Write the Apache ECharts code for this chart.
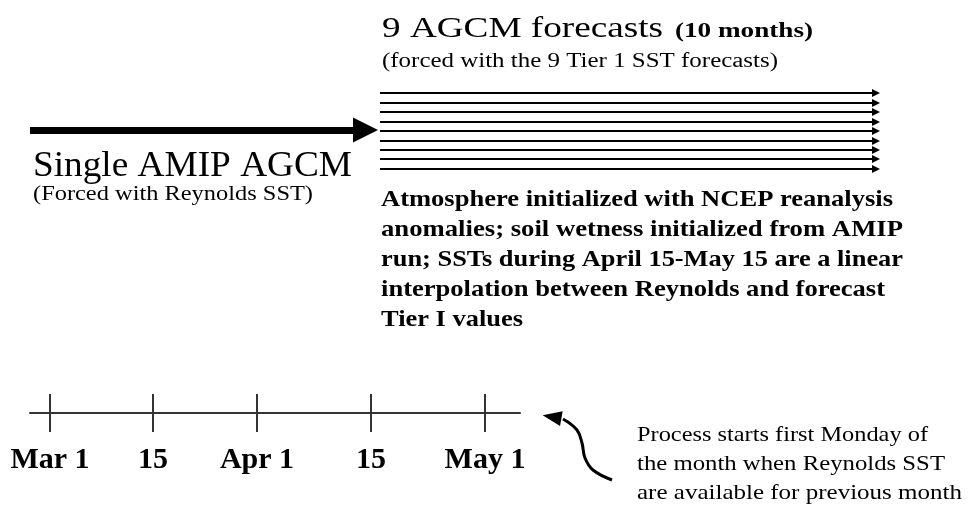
<!DOCTYPE html>
<html>
<head>
<meta charset="utf-8">
<script src="https://cdn.jsdelivr.net/npm/echarts@6.0.0/dist/echarts.min.js"></script>
<style>
  html, body { margin: 0; padding: 0; background: #fff; }
  #chart { width: 969px; height: 506px; }
</style>
</head>
<body>
<div id="chart"></div>
<script>
// diagram, in page units (x right, y down)
const amipArrowX = [30, 378];
const amipArrowY = 130;
const forecastX = [380, 880];
const forecastY = [93, 103, 112, 122, 131, 141, 150, 159, 169];

// timeline
const tickLabels = ['Mar 1', '15', 'Apr 1', '15', 'May 1'];
const tickPos = [50, 153, 257, 371, 485];
const timelineRange = [30, 520];

// curved pointer near the timeline, tail -> head
const curveX = [612, 593, 585, 582, 577, 563];
const curveY = [480, 470, 458, 443, 430, 419];
const curveHead = [552, 417];

const paragraph = [
    'Atmosphere initialized with NCEP reanalysis',
    'anomalies; soil wetness initialized from AMIP',
    'run; SSTs during April 15-May 15 are a linear',
    'interpolation between Reynolds and forecast',
    'Tier I values'
];
const paragraphWidth = [512, 522, 522, 504, 142];
const processNote = [
    'Process starts first Monday of',
    'the month when Reynolds SST',
    'are available for previous month'
];
const processWidth = [291, 308, 325];

const serif = '"Liberation Serif", "Times New Roman", serif';

// the source font is wider than Times, so each line is stretched to its width
const measureCtx = document.createElement('canvas').getContext('2d');

function txt(x, y, text, size, weight, width) {
    const font = (weight || 'normal') + ' ' + size + 'px ' + serif;
    measureCtx.font = font;
    const natural = measureCtx.measureText(text).width;
    return {
        type: 'text',
        x: x,
        y: y,
        scaleX: width ? width / natural : 1,
        silent: true,
        style: {
            x: 0,
            y: 0,
            text: text,
            fill: '#000',
            font: font,
            verticalAlign: 'middle',
            textVerticalAlign: 'middle'
        }
    };
}

const chart = echarts.init(document.getElementById('chart'));

const graphics = [
    txt(382, 29, '9 AGCM forecasts', 30, 'normal', 281),
    txt(675, 31, '(10 months)', 22, 'bold', 138),
    txt(382, 62, '(forced with the 9 Tier 1 SST forecasts)', 20, 'normal', 396),
    txt(33, 167, 'Single AMIP AGCM', 35, 'normal', 319),
    txt(33, 195, '(Forced with Reynolds SST)', 20, 'normal', 280)
];
paragraph.forEach((line, i) => graphics.push(txt(381, 200 + i * 30, line, 24, 'bold', paragraphWidth[i])));
processNote.forEach((line, i) => graphics.push(txt(637, 435 + i * 29, line, 21, 'normal', processWidth[i])));

const option = {
    animation: false,
    backgroundColor: '#fff',
    grid: [
        {left: 0, top: 0, width: 969, height: 506},
        {left: timelineRange[0], width: timelineRange[1] - timelineRange[0], top: 394, height: 38}
    ],
    xAxis: [
        {gridIndex: 0, type: 'value', min: 0, max: 969, show: false},
        {
            gridIndex: 1, type: 'value', min: timelineRange[0], max: timelineRange[1],
            axisLine: {show: true, onZero: true, lineStyle: {color: '#333', width: 2}},
            axisTick: {show: false},
            splitLine: {show: false},
            axisLabel: {
                customValues: tickPos,
                formatter: v => tickLabels[tickPos.indexOf(v)],
                color: '#000',
                fontFamily: serif,
                fontWeight: 'bold',
                fontSize: 30,
                margin: 13
            }
        }
    ],
    yAxis: [
        {gridIndex: 0, type: 'value', min: 0, max: 506, inverse: true, show: false},
        {gridIndex: 1, type: 'value', min: -1, max: 1, show: false}
    ],
    series: [
        {
            // thick AMIP arrow
            type: 'lines',
            coordinateSystem: 'cartesian2d',
            xAxisIndex: 0, yAxisIndex: 0,
            silent: true,
            symbol: ['none', 'triangle'],
            symbolSize: [25, 25],
            lineStyle: {color: '#000', width: 7, opacity: 1},
            data: [{coords: [[amipArrowX[0], amipArrowY], [amipArrowX[1] - 12.5, amipArrowY]]}]
        },
        {
            // nine forecast arrows
            type: 'lines',
            coordinateSystem: 'cartesian2d',
            xAxisIndex: 0, yAxisIndex: 0,
            silent: true,
            symbol: ['none', 'triangle'],
            symbolSize: [7, 8],
            lineStyle: {color: '#000', width: 1.8, opacity: 1},
            data: forecastY.map(y => ({coords: [[forecastX[0], y], [forecastX[1] - 4, y]]}))
        },
        {
            // curved pointer
            type: 'line',
            xAxisIndex: 0, yAxisIndex: 0,
            silent: true,
            smooth: 0.4,
            showSymbol: false,
            symbol: 'none',
            lineStyle: {color: '#000', width: 3},
            data: curveX.map((x, i) => [x, curveY[i]])
        },
        {
            type: 'scatter',
            xAxisIndex: 0, yAxisIndex: 0,
            silent: true,
            symbol: 'triangle',
            symbolSize: [15, 19],
            symbolRotate: 80,
            itemStyle: {color: '#000', opacity: 1},
            data: [curveHead]
        },
        {
            // timeline ticks
            type: 'line',
            xAxisIndex: 1, yAxisIndex: 1,
            silent: true,
            data: [],
            markLine: {
                silent: true,
                symbol: 'none',
                label: {show: false},
                lineStyle: {color: '#333', width: 2, type: 'solid'},
                data: tickPos.map(v => ({xAxis: v}))
            }
        }
    ],
    graphic: graphics
};

chart.setOption(option);
</script>
</body>
</html>
